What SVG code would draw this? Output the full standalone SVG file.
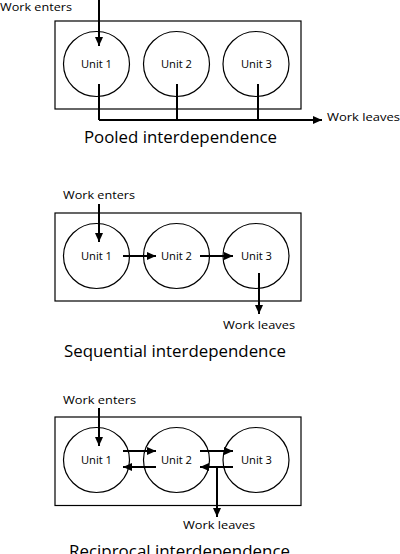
<svg xmlns="http://www.w3.org/2000/svg" width="400" height="554" viewBox="0 0 400 554">
<style>
.box{fill:none;stroke:#000;stroke-width:1.2}
.unit{fill:#fff;stroke:#000;stroke-width:1.2}
.lbl{font-family:"Open Sans","Liberation Sans",sans-serif;font-size:11.5px;fill:#000}
.ttl{font-family:"Open Sans","Liberation Sans",sans-serif;font-size:16.5px;fill:#000}
.c{fill:none;stroke:#000;stroke-width:2}
.a{marker-end:url(#ah)}
</style>
<defs>
<marker id="ah" markerUnits="userSpaceOnUse" markerWidth="10" markerHeight="10" viewBox="0 0 10 10" refX="9" refY="5" orient="auto">
<path d="M0,1 L9,5 L0,9 Z" fill="#000"/>
</marker>
</defs>
<rect width="400" height="554" fill="#fff"/>

<!-- Panel 1: Pooled -->
<g id="pooled-box"><rect class="box" x="55" y="21" width="246" height="88"/></g>
<g id="p1-unit1"><ellipse class="unit" cx="96.5" cy="64" rx="33" ry="32.5"/><text class="lbl" x="81" y="68" textLength="31" lengthAdjust="spacingAndGlyphs">Unit 1</text></g>
<g id="p1-unit2"><ellipse class="unit" cx="176.5" cy="64" rx="33" ry="32.5"/><text class="lbl" x="161" y="68" textLength="31" lengthAdjust="spacingAndGlyphs">Unit 2</text></g>
<g id="p1-unit3"><ellipse class="unit" cx="256" cy="64" rx="33" ry="32.5"/><text class="lbl" x="241" y="68" textLength="31" lengthAdjust="spacingAndGlyphs">Unit 3</text></g>
<g id="p1-texts">
<text class="lbl" x="0" y="10.5" textLength="72" lengthAdjust="spacingAndGlyphs">Work enters</text>
<text class="lbl" x="327" y="121" textLength="73" lengthAdjust="spacingAndGlyphs">Work leaves</text>
<text class="ttl" x="84" y="143" textLength="193" lengthAdjust="spacingAndGlyphs">Pooled interdependence</text>
</g>

<!-- Panel 2: Sequential -->
<g id="seq-box"><rect class="box" x="55" y="213" width="246" height="88"/></g>
<g id="p2-unit1"><ellipse class="unit" cx="96.5" cy="256" rx="33" ry="32.5"/><text class="lbl" x="81" y="260" textLength="31" lengthAdjust="spacingAndGlyphs">Unit 1</text></g>
<g id="p2-unit2"><ellipse class="unit" cx="176.5" cy="256" rx="33" ry="32.5"/><text class="lbl" x="161" y="260" textLength="31" lengthAdjust="spacingAndGlyphs">Unit 2</text></g>
<g id="p2-unit3"><ellipse class="unit" cx="256" cy="256" rx="33" ry="32.5"/><text class="lbl" x="241" y="260" textLength="31" lengthAdjust="spacingAndGlyphs">Unit 3</text></g>
<g id="p2-texts">
<text class="lbl" x="63" y="199" textLength="72" lengthAdjust="spacingAndGlyphs">Work enters</text>
<text class="lbl" x="223" y="329" textLength="72" lengthAdjust="spacingAndGlyphs">Work leaves</text>
<text class="ttl" x="64" y="357" textLength="222" lengthAdjust="spacingAndGlyphs">Sequential interdependence</text>
</g>

<!-- Panel 3: Reciprocal -->
<g id="rec-box"><rect class="box" x="55" y="417" width="246" height="88.5"/></g>
<g id="p3-unit1"><ellipse class="unit" cx="96.5" cy="460" rx="33" ry="32.5"/><text class="lbl" x="81" y="464" textLength="31" lengthAdjust="spacingAndGlyphs">Unit 1</text></g>
<g id="p3-unit2"><ellipse class="unit" cx="176.5" cy="460" rx="33" ry="32.5"/><text class="lbl" x="161" y="464" textLength="31" lengthAdjust="spacingAndGlyphs">Unit 2</text></g>
<g id="p3-unit3"><ellipse class="unit" cx="256" cy="460" rx="33" ry="32.5"/><text class="lbl" x="241" y="464" textLength="31" lengthAdjust="spacingAndGlyphs">Unit 3</text></g>
<g id="p3-texts">
<text class="lbl" x="63" y="404" textLength="73" lengthAdjust="spacingAndGlyphs">Work enters</text>
<text class="lbl" x="183" y="529" textLength="72" lengthAdjust="spacingAndGlyphs">Work leaves</text>
<text class="ttl" x="69" y="557" textLength="221" lengthAdjust="spacingAndGlyphs">Reciprocal interdependence</text>
</g>

<g id="connectors">
<!-- pooled -->
<path class="c a" d="M99,0 V46"/>
<path class="c" d="M99,84 V120"/>
<path class="c" d="M177,84 V120"/>
<path class="c" d="M258,84 V120"/>
<path class="c a" d="M99,120 H322"/>
<!-- sequential -->
<path class="c a" d="M99,204 V242"/>
<path class="c a" d="M123,256 H156"/>
<path class="c a" d="M200,256 H233"/>
<path class="c a" d="M259,273 V314"/>
<!-- reciprocal -->
<path class="c a" d="M99,408 V446"/>
<path class="c a" d="M123,451 H156"/>
<path class="c a" d="M156,467 H123"/>
<path class="c a" d="M200,451 H233"/>
<path class="c a" d="M233,467 H200"/>
<path class="c a" d="M217,467 V517"/>
</g>
</svg>
